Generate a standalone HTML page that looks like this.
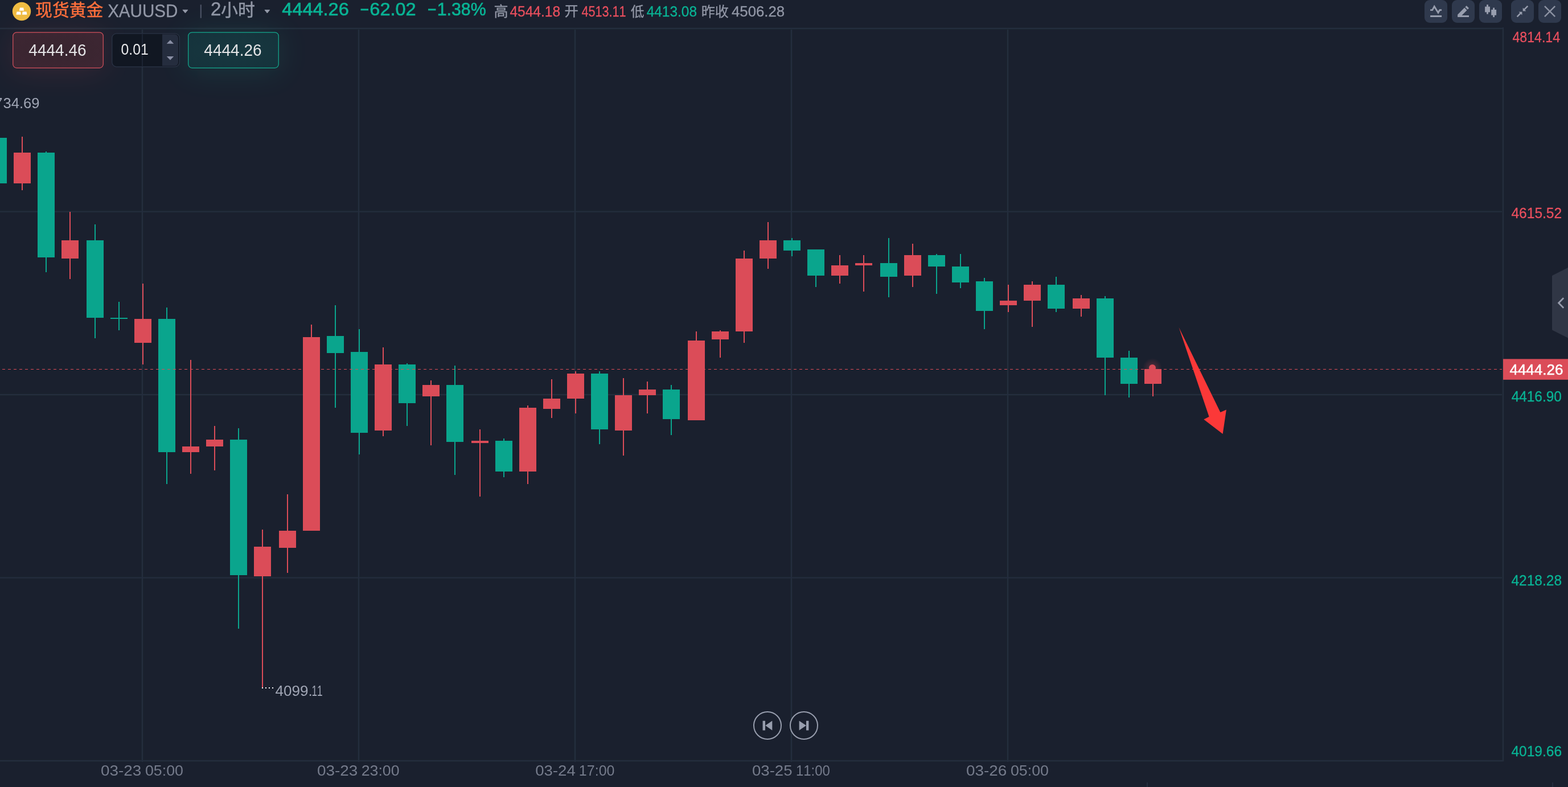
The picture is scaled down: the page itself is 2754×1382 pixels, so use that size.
<!DOCTYPE html>
<html><head><meta charset="utf-8"><title>XAUUSD</title>
<style>
html,body{margin:0;padding:0;background:#1a202e;}
body{width:2754px;height:1382px;overflow:hidden;}
svg{display:block;position:absolute;left:0;top:0;will-change:transform;}
text{font-family:"Liberation Sans","Noto Sans CJK SC",sans-serif;font-kerning:none;white-space:pre;}
</style></head><body>
<svg width="2754" height="1382" viewBox="0 0 2754 1382">
<defs>
<filter id="blur" x="-50%" y="-100%" width="200%" height="300%"><feGaussianBlur stdDeviation="26"/></filter>
<radialGradient id="sellg" cx="0.5" cy="0.5" r="0.75"><stop offset="0" stop-color="#38252f"/><stop offset="1" stop-color="#3e2633"/></radialGradient>
<radialGradient id="buyg" cx="0.5" cy="0.5" r="0.75"><stop offset="0" stop-color="#173840"/><stop offset="1" stop-color="#15323b"/></radialGradient>
<radialGradient id="glow"><stop offset="0" stop-color="#db4c58" stop-opacity="0.45"/><stop offset="0.35" stop-color="#db4c58" stop-opacity="0.22"/><stop offset="1" stop-color="#db4c58" stop-opacity="0"/></radialGradient></defs>
<rect width="2754" height="1382" fill="#1a202e"/>
<g fill="#1b252f">
<rect x="248" y="51" width="4" height="1287"/>
<rect x="628" y="51" width="4" height="1287"/>
<rect x="1008" y="51" width="4" height="1287"/>
<rect x="1388" y="51" width="4" height="1287"/>
<rect x="1768" y="51" width="4" height="1287"/>
<rect x="0" y="369.6" width="2639" height="4"/>
<rect x="0" y="691" width="2639" height="4"/>
<rect x="0" y="1012.5" width="2639" height="4"/>
</g>
<g fill="#242d3e">
<rect x="249" y="50" width="2" height="1288"/>
<rect x="629" y="50" width="2" height="1288"/>
<rect x="1009" y="50" width="2" height="1288"/>
<rect x="1389" y="50" width="2" height="1288"/>
<rect x="1769" y="50" width="2" height="1288"/>
<rect x="0" y="370.6" width="2640" height="2"/>
<rect x="0" y="692" width="2640" height="2"/>
<rect x="0" y="1013.5" width="2640" height="2"/>
</g>
<rect x="-4" y="242" width="2" height="80" fill="#0aa58d"/>
<rect x="-18" y="242" width="30" height="80" fill="#0aa58d"/>
<rect x="38" y="240" width="2" height="94" fill="#db4c58"/>
<rect x="24" y="268" width="30" height="54" fill="#db4c58"/>
<rect x="80" y="266" width="2" height="212" fill="#0aa58d"/>
<rect x="66" y="268" width="30" height="184" fill="#0aa58d"/>
<rect x="122" y="372" width="2" height="118" fill="#db4c58"/>
<rect x="108" y="422" width="30" height="32" fill="#db4c58"/>
<rect x="166" y="394" width="2" height="200" fill="#0aa58d"/>
<rect x="152" y="422" width="30" height="136" fill="#0aa58d"/>
<rect x="208" y="530" width="2" height="50" fill="#0aa58d"/>
<rect x="194" y="558" width="30" height="2" fill="#0aa58d"/>
<rect x="250" y="498" width="2" height="142" fill="#db4c58"/>
<rect x="236" y="560" width="30" height="42" fill="#db4c58"/>
<rect x="292" y="540" width="2" height="310" fill="#0aa58d"/>
<rect x="278" y="560" width="30" height="234" fill="#0aa58d"/>
<rect x="334" y="632" width="2" height="200" fill="#db4c58"/>
<rect x="320" y="784" width="30" height="10" fill="#db4c58"/>
<rect x="376" y="748" width="2" height="78" fill="#db4c58"/>
<rect x="362" y="772" width="30" height="12" fill="#db4c58"/>
<rect x="418" y="752" width="2" height="352" fill="#0aa58d"/>
<rect x="404" y="772" width="30" height="238" fill="#0aa58d"/>
<rect x="460" y="930" width="2" height="277" fill="#db4c58"/>
<rect x="446" y="960" width="30" height="52" fill="#db4c58"/>
<rect x="504" y="868" width="2" height="138" fill="#db4c58"/>
<rect x="490" y="932" width="30" height="30" fill="#db4c58"/>
<rect x="546" y="570" width="2" height="362" fill="#db4c58"/>
<rect x="532" y="592" width="30" height="340" fill="#db4c58"/>
<rect x="588" y="536" width="2" height="180" fill="#0aa58d"/>
<rect x="574" y="590" width="30" height="30" fill="#0aa58d"/>
<rect x="630" y="578" width="2" height="220" fill="#0aa58d"/>
<rect x="616" y="618" width="30" height="142" fill="#0aa58d"/>
<rect x="672" y="610" width="2" height="156" fill="#db4c58"/>
<rect x="658" y="640" width="30" height="116" fill="#db4c58"/>
<rect x="714" y="638" width="2" height="110" fill="#0aa58d"/>
<rect x="700" y="640" width="30" height="68" fill="#0aa58d"/>
<rect x="756" y="668" width="2" height="114" fill="#db4c58"/>
<rect x="742" y="676" width="30" height="20" fill="#db4c58"/>
<rect x="798" y="642" width="2" height="192" fill="#0aa58d"/>
<rect x="784" y="676" width="30" height="100" fill="#0aa58d"/>
<rect x="842" y="754" width="2" height="118" fill="#db4c58"/>
<rect x="828" y="774" width="30" height="4" fill="#db4c58"/>
<rect x="884" y="770" width="2" height="68" fill="#0aa58d"/>
<rect x="870" y="774" width="30" height="54" fill="#0aa58d"/>
<rect x="926" y="712" width="2" height="138" fill="#db4c58"/>
<rect x="912" y="716" width="30" height="112" fill="#db4c58"/>
<rect x="968" y="666" width="2" height="68" fill="#db4c58"/>
<rect x="954" y="700" width="30" height="18" fill="#db4c58"/>
<rect x="1010" y="652" width="2" height="74" fill="#db4c58"/>
<rect x="996" y="656" width="30" height="44" fill="#db4c58"/>
<rect x="1052" y="652" width="2" height="128" fill="#0aa58d"/>
<rect x="1038" y="656" width="30" height="98" fill="#0aa58d"/>
<rect x="1094" y="664" width="2" height="136" fill="#db4c58"/>
<rect x="1080" y="694" width="30" height="62" fill="#db4c58"/>
<rect x="1136" y="670" width="2" height="56" fill="#db4c58"/>
<rect x="1122" y="684" width="30" height="10" fill="#db4c58"/>
<rect x="1178" y="676" width="2" height="88" fill="#0aa58d"/>
<rect x="1164" y="684" width="30" height="52" fill="#0aa58d"/>
<rect x="1222" y="582" width="2" height="156" fill="#db4c58"/>
<rect x="1208" y="598" width="30" height="140" fill="#db4c58"/>
<rect x="1264" y="580" width="2" height="48" fill="#db4c58"/>
<rect x="1250" y="582" width="30" height="14" fill="#db4c58"/>
<rect x="1306" y="440" width="2" height="162" fill="#db4c58"/>
<rect x="1292" y="454" width="30" height="128" fill="#db4c58"/>
<rect x="1348" y="390" width="2" height="82" fill="#db4c58"/>
<rect x="1334" y="422" width="30" height="32" fill="#db4c58"/>
<rect x="1390" y="418" width="2" height="32" fill="#0aa58d"/>
<rect x="1376" y="422" width="30" height="18" fill="#0aa58d"/>
<rect x="1432" y="438" width="2" height="66" fill="#0aa58d"/>
<rect x="1418" y="438" width="30" height="46" fill="#0aa58d"/>
<rect x="1474" y="448" width="2" height="50" fill="#db4c58"/>
<rect x="1460" y="466" width="30" height="18" fill="#db4c58"/>
<rect x="1516" y="448" width="2" height="64" fill="#db4c58"/>
<rect x="1502" y="462" width="30" height="4" fill="#db4c58"/>
<rect x="1560" y="418" width="2" height="104" fill="#0aa58d"/>
<rect x="1546" y="462" width="30" height="24" fill="#0aa58d"/>
<rect x="1602" y="428" width="2" height="76" fill="#db4c58"/>
<rect x="1588" y="448" width="30" height="36" fill="#db4c58"/>
<rect x="1644" y="446" width="2" height="70" fill="#0aa58d"/>
<rect x="1630" y="448" width="30" height="20" fill="#0aa58d"/>
<rect x="1686" y="446" width="2" height="60" fill="#0aa58d"/>
<rect x="1672" y="468" width="30" height="28" fill="#0aa58d"/>
<rect x="1728" y="488" width="2" height="90" fill="#0aa58d"/>
<rect x="1714" y="494" width="30" height="52" fill="#0aa58d"/>
<rect x="1770" y="500" width="2" height="48" fill="#db4c58"/>
<rect x="1756" y="528" width="30" height="8" fill="#db4c58"/>
<rect x="1812" y="494" width="2" height="80" fill="#db4c58"/>
<rect x="1798" y="500" width="30" height="28" fill="#db4c58"/>
<rect x="1854" y="486" width="2" height="62" fill="#0aa58d"/>
<rect x="1840" y="500" width="30" height="42" fill="#0aa58d"/>
<rect x="1898" y="518" width="2" height="38" fill="#db4c58"/>
<rect x="1884" y="524" width="30" height="18" fill="#db4c58"/>
<rect x="1940" y="520" width="2" height="174" fill="#0aa58d"/>
<rect x="1926" y="524" width="30" height="104" fill="#0aa58d"/>
<rect x="1982" y="616" width="2" height="82" fill="#0aa58d"/>
<rect x="1968" y="628" width="30" height="46" fill="#0aa58d"/>
<rect x="2024" y="648" width="2" height="48" fill="#db4c58"/>
<rect x="2010" y="648" width="30" height="26" fill="#db4c58"/>
<circle cx="2024" cy="646" r="17" fill="url(#glow)"/>
<circle cx="2024" cy="646" r="6" fill="#db4c58"/>
<rect x="2010" y="648" width="30" height="26" fill="#db4c58"/>
<line x1="-6" y1="648.5" x2="2640" y2="648.5" stroke="#db4c58" stroke-width="1" stroke-dasharray="5 5"/>
<polygon fill="#fb3838" points="2070.6,575 2143.4,724.1 2153.9,719.4 2147.6,762.1 2114.3,736.4 2123.6,731.8"/>
<g fill="#f4f5f7"><rect x="460" y="1207" width="2" height="2"/><rect x="466" y="1207" width="2" height="2"/><rect x="472" y="1207" width="2" height="2"/><rect x="478" y="1207" width="2" height="2"/></g>
<text transform="translate(483.40,1222.05) scale(1.0318,1)" font-size="25.28" fill="#a0a5b4">4099.</text>
<text transform="translate(547.40,1222.00) scale(0.6691,1)" font-size="25.58" fill="#a0a5b4">11</text>
<text transform="translate(-23.58,190.30) scale(0.9654,1)" font-size="26.02" fill="#a0a5b4">47</text>
<text transform="translate(5.53,190.35) scale(0.9839,1)" font-size="25.99" fill="#a0a5b4">34.69</text>
<rect x="0" y="48" width="2639" height="4" fill="#1b252f"/>
<rect x="2638" y="51" width="4" height="1286" fill="#1b252f"/>
<rect x="0" y="1334" width="2639" height="4" fill="#1b252f"/>
<g fill="#242d3e">
<rect x="249" y="1334" width="2" height="4"/>
<rect x="629" y="1334" width="2" height="4"/>
<rect x="1009" y="1334" width="2" height="4"/>
<rect x="1389" y="1334" width="2" height="4"/>
<rect x="1769" y="1334" width="2" height="4"/>
</g>
<rect x="0" y="49" width="2640" height="2" fill="#242d3e"/>
<rect x="2639" y="48" width="2" height="1289" fill="#242d3e"/>
<rect x="0" y="1335" width="2640" height="2" fill="#242d3e"/>
<rect x="2014" y="1374" width="2" height="8" fill="#242d3e"/>
<rect x="2726" y="1374" width="2" height="8" fill="#242d3e"/>
<text transform="translate(2656.47,74.34) scale(0.8804,1)" font-size="26.27" fill="#e94f5e" stroke="#e94f5e" stroke-width="0.3">4814.14</text>
<text transform="translate(2654.44,383.15) scale(0.9453,1)" font-size="25.99" fill="#e94f5e" stroke="#e94f5e" stroke-width="0.3">4615.52</text>
<rect x="2640" y="630.4" width="114" height="36.4" fill="#db4c58"/>
<text transform="translate(2651.40,658.35) scale(1.0076,1)" font-size="25.85" fill="#ffffff" stroke="#ffffff" stroke-width="0.5">4444.26</text>
<text transform="translate(2654.64,705.15) scale(0.9610,1)" font-size="25.42" fill="#09b394" stroke="#09b394" stroke-width="0.3">4416.90</text>
<text transform="translate(2654.44,1028.14) scale(0.9383,1)" font-size="26.13" fill="#09b394" stroke="#09b394" stroke-width="0.3">4218.28</text>
<text transform="translate(2654.44,1328.35) scale(0.9436,1)" font-size="25.99" fill="#09b394" stroke="#09b394" stroke-width="0.3">4019.66</text>
<text transform="translate(176.91,1362.15) scale(1.1091,1)" font-size="25.14" fill="#757b8b">03-23</text>
<text transform="translate(254.95,1362.15) scale(1.0665,1)" font-size="25.14" fill="#757b8b">05:00</text>
<text transform="translate(556.91,1362.15) scale(1.1091,1)" font-size="25.14" fill="#757b8b">03-23</text>
<text transform="translate(634.66,1362.15) scale(1.0632,1)" font-size="25.14" fill="#757b8b">23:00</text>
<text transform="translate(940.17,1362.15) scale(1.0986,1)" font-size="25.14" fill="#757b8b">03-24</text>
<text transform="translate(1016.84,1362.15) scale(0.9956,1)" font-size="25.14" fill="#757b8b">17:00</text>
<text transform="translate(1320.92,1362.15) scale(1.1002,1)" font-size="25.14" fill="#757b8b">03-25</text>
<text transform="translate(1397.92,1362.15) scale(0.9539,1)" font-size="25.14" fill="#757b8b">11:00</text>
<text transform="translate(1696.91,1362.15) scale(1.1091,1)" font-size="25.14" fill="#757b8b">03-26</text>
<text transform="translate(1774.95,1362.15) scale(1.0665,1)" font-size="25.14" fill="#757b8b">05:00</text>
<polygon fill="#303645" stroke="#303645" stroke-width="1" stroke-linejoin="round" points="2755,470 2726.5,484.3 2726.5,579.2 2755,593.5"/>
<polyline fill="none" stroke="#969bab" stroke-width="2.8" points="2746.2,523.3 2737.6,532 2746.2,540.7"/>
<circle cx="1348" cy="1274" r="24" fill="#1a202e" stroke="#989eae" stroke-width="2"/>
<circle cx="1412" cy="1274" r="24" fill="#1a202e" stroke="#989eae" stroke-width="2"/>
<rect x="1339.6" y="1265.8" width="4.4" height="16.7" fill="#989eae"/><polygon fill="#989eae" points="1344.2,1274 1356.3,1265.8 1356.3,1282.5"/>
<rect x="1416" y="1265.8" width="4.4" height="16.7" fill="#989eae"/><polygon fill="#989eae" points="1416,1274 1403.6,1265.8 1403.6,1282.5"/>
<circle cx="38" cy="20" r="16.2" fill="#efbc42"/>
<g fill="#fff"><polygon points="35,13.6 41.2,13.6 42.1,18.7 33.8,18.7"/><polygon points="29.5,20.6 36.1,20.6 36.9,25.8 28.5,25.8"/><polygon points="39.7,20.6 46.6,20.6 47.4,25.8 38.9,25.8"/></g>
<text x="62.1" y="27.6" font-size="29.8" fill="#ff703c" stroke="#ff703c" stroke-width="0.45">现货黄金</text>
<text transform="translate(189.14,30.19) scale(0.9186,1)" font-size="32.20" fill="#9297a6" stroke="#9297a6" stroke-width="0.3">XAUUSD</text>
<polygon fill="#9297a6" stroke="#9297a6" stroke-width="1" stroke-linejoin="round" points="321,17.4 329.8,17.4 325.4,22.8"/>
<rect x="351.7" y="8.2" width="2.2" height="23.5" fill="#4c5264"/>
<text transform="translate(369.94,27.20) scale(1.0173,1)" font-size="32.37" fill="#9297a6" stroke="#9297a6" stroke-width="0.4">2</text>
<text x="388.0" y="27.5" font-size="29.9" fill="#9297a6" stroke="#9297a6" stroke-width="0.5">小时</text>
<polygon fill="#9297a6" stroke="#9297a6" stroke-width="1" stroke-linejoin="round" points="465,17.5 473.6,17.5 469.3,22.9"/>
<text transform="translate(495.35,26.99) scale(1.0172,1)" font-size="31.92" fill="#09b394" stroke="#09b394" stroke-width="0.7">4444.26</text>
<rect x="633.5" y="15.4" width="13.5" height="3" fill="#09b394"/>
<text transform="translate(649.35,26.99) scale(1.0176,1)" font-size="31.92" fill="#09b394" stroke="#09b394" stroke-width="0.7">62.02</text>
<rect x="752" y="15.4" width="13.5" height="3" fill="#09b394"/>
<text transform="translate(767.69,26.99) scale(0.9489,1)" font-size="31.92" fill="#09b394" stroke="#09b394" stroke-width="0.7">1.38%</text>
<text x="867.6" y="28.8" font-size="25.1" fill="#9297a6" stroke="#9297a6" stroke-width="0.3">高</text>
<text transform="translate(895.44,29.15) scale(0.9434,1)" font-size="25.99" fill="#e94f5e" stroke="#e94f5e" stroke-width="0.3">4544.18</text>
<text x="991.6" y="28.2" font-size="24.4" fill="#9297a6" stroke="#9297a6" stroke-width="0.3">开</text>
<text transform="translate(1021.40,29.15) scale(0.8330,1)" font-size="25.99" fill="#e94f5e" stroke="#e94f5e" stroke-width="0.3">4513.11</text>
<text x="1107.8" y="28.5" font-size="23.7" fill="#9297a6" stroke="#9297a6" stroke-width="0.3">低</text>
<text transform="translate(1135.64,29.15) scale(0.9413,1)" font-size="25.99" fill="#09b394" stroke="#09b394" stroke-width="0.3">4413.08</text>
<text x="1231.7" y="28.6" font-size="24.1" fill="#9297a6" stroke="#9297a6" stroke-width="0.3">昨收</text>
<text transform="translate(1285.01,29.24) scale(0.9869,1)" font-size="26.13" fill="#9297a6" stroke="#9297a6" stroke-width="0.3">4506.28</text>
<rect x="2502" y="0" width="40" height="40" rx="9" fill="#2f394d"/>
<rect x="2550" y="0" width="40" height="40" rx="9" fill="#2f394d"/>
<rect x="2598" y="0" width="40" height="40" rx="9" fill="#2f394d"/>
<rect x="2654" y="0" width="40" height="40" rx="9" fill="#2f394d"/>
<rect x="2702" y="0" width="40" height="40" rx="9" fill="#2f394d"/>
<g transform="translate(2502,0)" fill="none" stroke="#989eae"><polyline stroke-width="2.8" points="10.1,17.7 13.8,17.7 17.2,11.4 24,22.3 26.6,17.7 30.1,17.7"/><line x1="10.1" y1="28.5" x2="30.1" y2="28.5" stroke-width="3"/></g>
<g transform="translate(2550,0)" fill="#989eae"><polygon points="10.1,25.7 22.2,13.6 26.5,18 17.5,27 30,27 30,30 10.1,30"/><polygon points="23.4,12.4 25.7,10.1 30,14.3 27.8,16.7"/></g>
<g transform="translate(2598,0)" fill="#989eae"><rect x="10.1" y="11.6" width="8.9" height="9.8"/><rect x="13.1" y="8.1" width="2.8" height="16.6"/><rect x="21.2" y="17" width="8.9" height="9.7"/><rect x="24.2" y="13.6" width="2.8" height="16.5"/></g>
<g transform="translate(2654,0)" fill="#989eae" stroke="#989eae" stroke-width="2.5"><line x1="29.3" y1="10.6" x2="22.5" y2="17.4"/><polygon stroke="none" points="20.7,13.6 20.7,19.4 26.4,19.4"/><line x1="10.6" y1="29.3" x2="17.4" y2="22.5"/><polygon stroke="none" points="13.6,20.7 19.4,20.7 19.4,26.4"/></g>
<g transform="translate(2702,0)" stroke="#8d93a3" stroke-width="2.4"><line x1="11" y1="10.9" x2="29.2" y2="29.1"/><line x1="29.2" y1="10.9" x2="11" y2="29.1"/></g>
<rect x="22" y="60" width="160" height="64" rx="10" fill="#d94f5a" opacity="0.15" filter="url(#blur)"/>
<rect x="330" y="60" width="160" height="64" rx="10" fill="#12a58b" opacity="0.18" filter="url(#blur)"/>
<rect x="22.75" y="56.75" width="158.5" height="62.5" rx="6.5" fill="url(#sellg)" stroke="#d0505c" stroke-width="1.25"/>
<text transform="translate(50.36,98.42) scale(0.9772,1)" font-size="28.67" fill="#e4e4e6">4444.46</text>
<rect x="196.75" y="58.75" width="118.5" height="58.5" rx="8" fill="#111722" stroke="#2c3547" stroke-width="1.25"/>
<rect x="249" y="59.5" width="2" height="57" fill="#1c2433"/>
<path d="M285,60.2 h21.5 a6.5,6.5 0 0 1 6.5,6.5 v42.6 a6.5,6.5 0 0 1 -6.5,6.5 h-21.5 z" fill="#252d3e"/>
<polygon fill="#8a8fa5" points="292.7,76.7 305.2,76.7 299,70.2"/><polygon fill="#8a8fa5" points="292.7,99 305.2,99 299,105.6"/>
<text transform="translate(212.53,96.42) scale(0.8695,1)" font-size="28.53" fill="#e8e8ea">0.01</text>
<rect x="330.75" y="56.75" width="158.5" height="62.5" rx="6.5" fill="url(#buyg)" stroke="#14a88d" stroke-width="1.25"/>
<text transform="translate(358.36,98.42) scale(0.9772,1)" font-size="28.67" fill="#e4e4e6">4444.26</text>
</svg>
</body></html>
